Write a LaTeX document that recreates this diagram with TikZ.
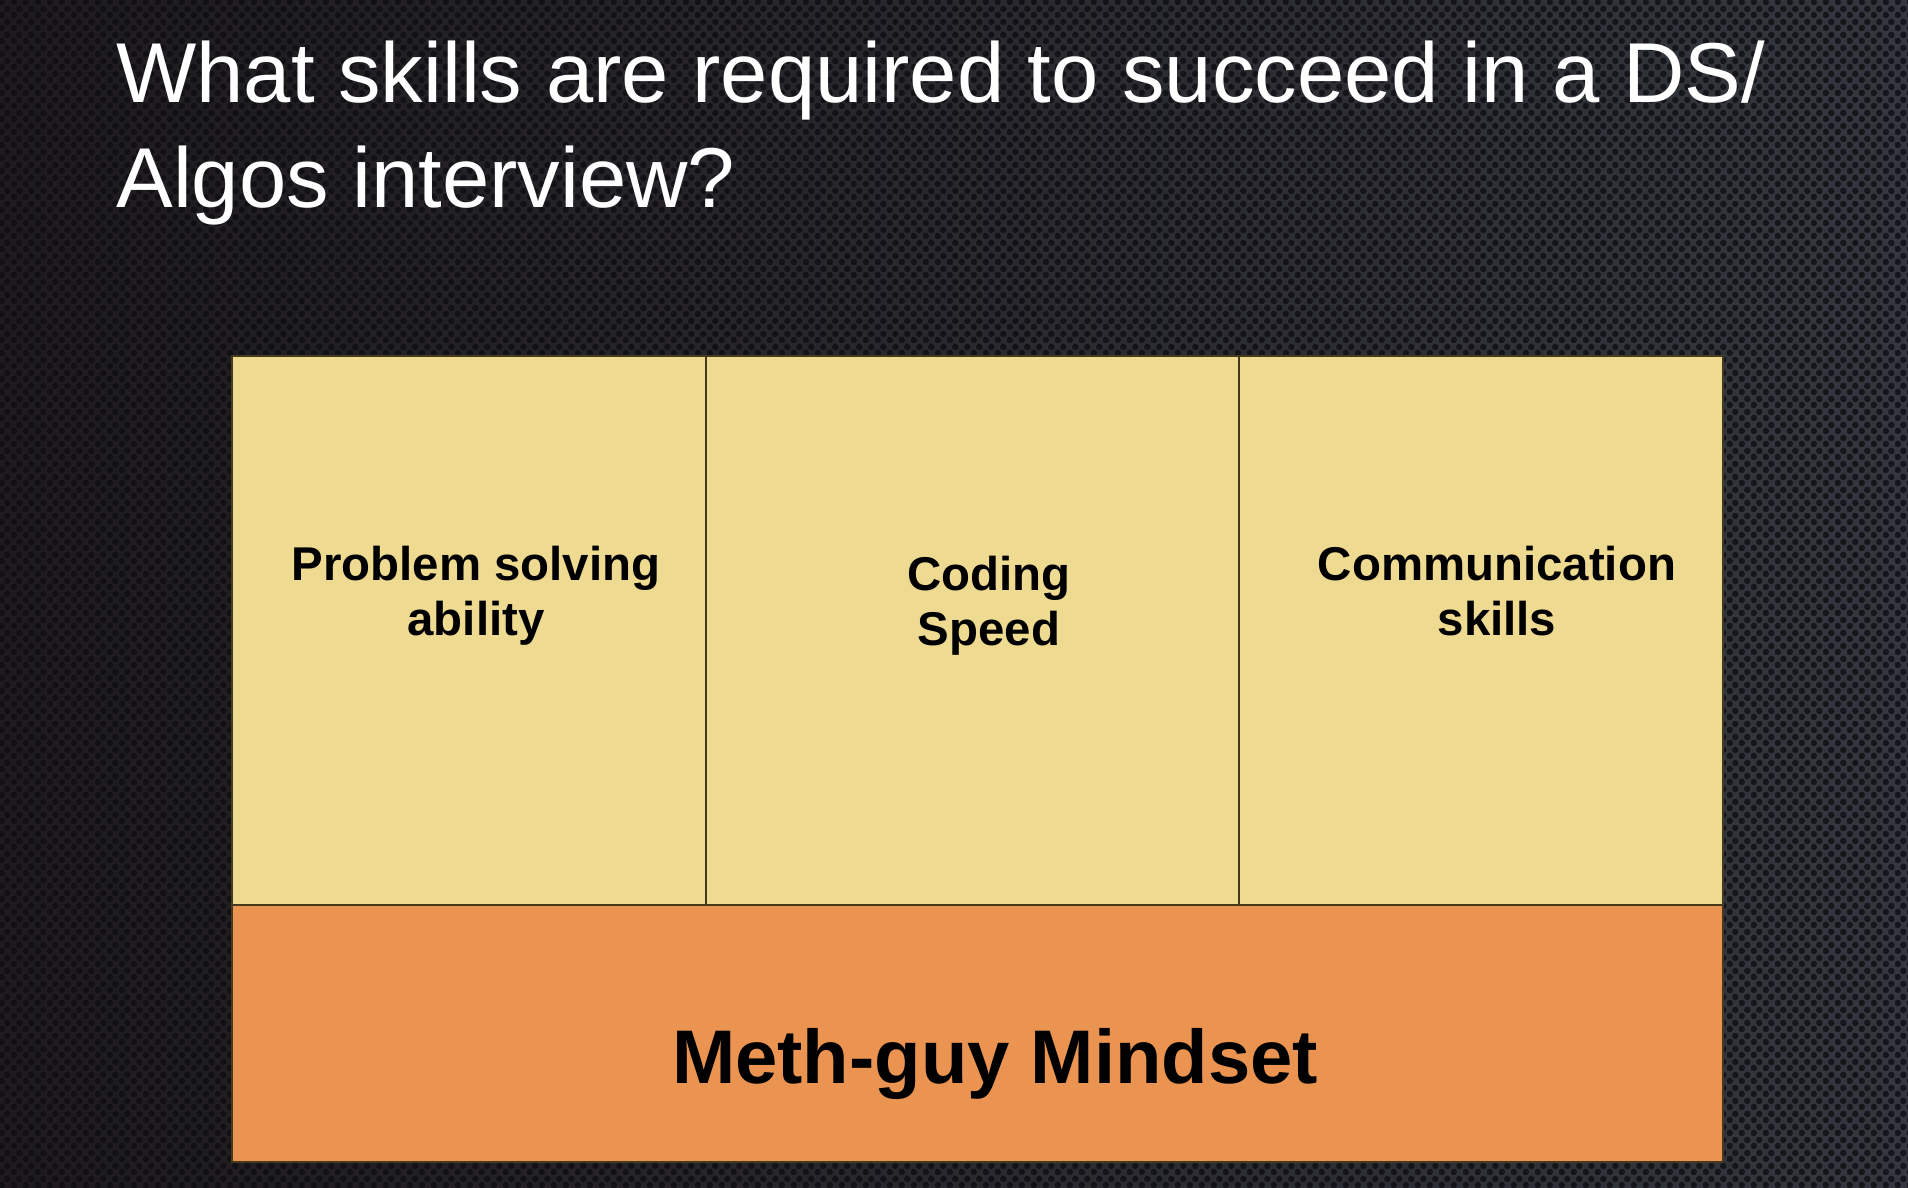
\documentclass[tikz,border=0pt]{standalone}
\usepackage{fontspec}
\setmainfont{Liberation Sans}
\usetikzlibrary{patterns}
\pgfdeclarepatternformonly{hexdots}{\pgfpointorigin}{\pgfpoint{6pt}{6.5pt}}{\pgfpoint{6pt}{6.5pt}}{%
  \pgfpathcircle{\pgfpoint{1.5pt}{1.625pt}}{1.75pt}%
  \pgfpathcircle{\pgfpoint{4.5pt}{4.875pt}}{1.75pt}%
  \pgfusepath{fill}}
\definecolor{bgL}{RGB}{30,26,29}
\definecolor{bgM}{RGB}{68,69,74}
\definecolor{bgR}{RGB}{52,55,63}
\definecolor{dotc}{RGB}{14,14,18}
\definecolor{cellY}{RGB}{239,218,146}
\definecolor{cellO}{RGB}{235,148,81}
\definecolor{edge}{RGB}{70,58,30}
\tikzset{
  cell/.style={draw=edge, line width=0.6pt},
  lbl/.style={font=\bfseries\fontsize{23.7}{27.5}\selectfont, align=center, inner sep=0pt, text=black},
  big/.style={font=\bfseries\fontsize{38}{44}\selectfont, inner sep=0pt, text=black},
  ttl/.style={font=\fontsize{42.5}{51.7}\selectfont, inner sep=0pt, text=white, align=left}
}
\begin{document}
\begin{tikzpicture}[x=0.5pt,y=-0.5pt]
\useasboundingbox (0,0) rectangle (1908,1188);
\shade[left color=bgL, middle color=bgM, right color=bgR] (0,0) rectangle (1908,1188);
\fill[pattern=hexdots, pattern color=dotc, opacity=0.8] (0,0) rectangle (1908,1188);
% title
\node[ttl, anchor=base west] (t1) at (116,103) {What skills are required to succeed in a DS/};
\node[ttl, anchor=base west] (t2) at (116,207) {Algos interview?};
% cells
\path[cell, fill=cellY] (232,356) rectangle (706,905) node[midway] (c1) {};
\path[cell, fill=cellY] (706,356) rectangle (1239,905) node[midway] (c2) {};
\path[cell, fill=cellY] (1239,356) rectangle (1723,905) node[midway] (c3) {};
\path[cell, fill=cellO] (232,905) rectangle (1723,1162) node[midway] (c4) {};
% labels (base anchor = baseline of the last line)
\node[lbl, anchor=base] (l1) at (476,635) {Problem solving\\ability};
\node[lbl, anchor=base] (l2) at (989,645) {Coding\\Speed};
\node[lbl, anchor=base] (l3) at (1497,635) {Communication\\skills};
\node[big, anchor=base] (l4) at (995,1083) {Meth-guy Mindset};
\end{tikzpicture}
\end{document}
